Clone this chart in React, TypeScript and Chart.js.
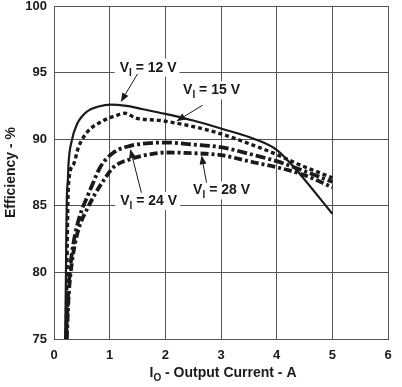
import React, { useEffect, useRef } from "react";
import { Chart, registerables } from "chart.js";

Chart.register(...registerables);

// Axis ranges / ticks
const xMin = 0;
const xMax = 6;
const xStep = 1;
const yMin = 75;
const yMax = 100;
const yStep = 5;

// V_I = 12 V
const v12X = [0.2, 0.21, 0.22, 0.23, 0.25, 0.26, 0.32, 0.41, 0.6, 0.8, 1.02, 1.3, 1.6, 2.0, 2.5, 3.0, 3.61, 4.0, 4.33, 5.0];
const v12Y = [75, 78, 82, 85.4, 87.0, 88.1, 89.9, 91.1, 92.1, 92.45, 92.6, 92.5, 92.25, 91.9, 91.4, 90.8, 90.0, 89.2, 87.8, 84.4];

// V_I = 15 V
const v15X = [0.22, 0.23, 0.24, 0.26, 0.35, 0.44, 0.59, 0.89, 1.1, 1.28, 1.46, 1.91, 2.5, 3.0, 3.61, 4.0, 4.4, 5.0];
const v15Y = [75, 79, 83, 86.6, 88.1, 89.4, 90.5, 91.4, 91.75, 91.95, 91.6, 91.4, 90.95, 90.4, 89.5, 88.85, 88.1, 87.1];

// V_I = 24 V
const v24X = [0.22, 0.25, 0.29, 0.35, 0.42, 0.5, 0.6, 0.7, 0.83, 1.07, 1.37, 1.7, 2.0, 2.5, 3.0, 3.6, 4.0, 4.5, 5.0];
const v24Y = [75, 78, 80.3, 82.2, 83.6, 84.7, 85.7, 86.7, 87.9, 89.0, 89.5, 89.7, 89.75, 89.6, 89.4, 88.8, 88.35, 87.6, 86.8];

// V_I = 28 V
const v28X = [0.23, 0.26, 0.3, 0.37, 0.46, 0.6, 0.74, 0.89, 1.07, 1.37, 1.7, 2.0, 2.5, 3.0, 3.6, 4.0, 4.5, 5.0];
const v28Y = [75, 78, 80, 82, 83.5, 84.8, 85.9, 86.9, 87.9, 88.5, 88.85, 89.0, 88.95, 88.8, 88.25, 87.9, 87.3, 86.4];

// Curve labels (text in data coordinates, arrows tail -> head)
const labelVolts = ["12 V", "15 V", "24 V", "28 V"];
const labelX = [1.69, 2.83, 1.7, 3.01];
const labelY = [95.45, 93.74, 85.43, 86.23];
const arrowTailX = [1.5, 2.67, 1.57, 2.74];
const arrowTailY = [94.9, 92.55, 85.98, 86.73];
const arrowHeadX = [1.2, 2.2, 1.37, 2.65];
const arrowHeadY = [92.8, 91.35, 89.26, 88.8];

const xTitleMain = "I";
const xTitleSub = "O";
const xTitleRest = " - Output Current - A";
const yTitle = "Efficiency - %";

const FONT = "'Liberation Sans', Arial, Helvetica, sans-serif";
const INK = "#1a1a1a";

function zip(xs: number[], ys: number[]) {
  return xs.map((x, i) => ({ x, y: ys[i] }));
}

function drawSubText(ctx: CanvasRenderingContext2D, main: string, sub: string, rest: string, cx: number, base: number, size: number, subSize: number, subDrop: number, bg: boolean) {
  ctx.font = `bold ${size}px ${FONT}`;
  const wM = ctx.measureText(main).width;
  const wR = ctx.measureText(rest).width;
  ctx.font = `bold ${subSize}px ${FONT}`;
  const wS = ctx.measureText(sub).width;
  const total = wM + wS + wR;
  let x = cx - total / 2;
  if (bg) {
    ctx.fillStyle = "#ffffff";
    ctx.fillRect(x - 5, base - size + 1, total + 8, size + 4);
  }
  ctx.fillStyle = INK;
  ctx.textAlign = "left";
  ctx.textBaseline = "alphabetic";
  ctx.font = `bold ${size}px ${FONT}`;
  ctx.fillText(main, x, base);
  x += wM;
  ctx.font = `bold ${subSize}px ${FONT}`;
  ctx.fillText(sub, x, base + subDrop);
  x += wS;
  ctx.font = `bold ${size}px ${FONT}`;
  ctx.fillText(rest, x, base);
}

const annotPlugin = {
  id: "curveLabels",
  afterDatasetsDraw(chart: any) {
    const ctx: CanvasRenderingContext2D = chart.ctx;
    const xs = chart.scales.x;
    const ys = chart.scales.y;
    ctx.save();
    labelVolts.forEach((v, i) => {
      const cx = xs.getPixelForValue(labelX[i]);
      const cy = ys.getPixelForValue(labelY[i]);
      drawSubText(ctx, "V", "I", ` = ${v}`, cx, cy + 5, 14, 10, 4, true);
    });
    labelVolts.forEach((_, i) => {
      const tx = xs.getPixelForValue(arrowTailX[i]);
      const ty = ys.getPixelForValue(arrowTailY[i]);
      const hx = xs.getPixelForValue(arrowHeadX[i]);
      const hy = ys.getPixelForValue(arrowHeadY[i]);
      const ang = Math.atan2(hy - ty, hx - tx);
      const len = 9;
      const half = 3.5;
      const bx = hx - len * Math.cos(ang);
      const by = hy - len * Math.sin(ang);
      ctx.strokeStyle = INK;
      ctx.lineWidth = 1;
      ctx.beginPath();
      ctx.moveTo(tx, ty);
      ctx.lineTo(bx, by);
      ctx.stroke();
      ctx.fillStyle = INK;
      ctx.beginPath();
      ctx.moveTo(hx, hy);
      ctx.lineTo(bx + half * Math.sin(ang), by - half * Math.cos(ang));
      ctx.lineTo(bx - half * Math.sin(ang), by + half * Math.cos(ang));
      ctx.closePath();
      ctx.fill();
    });
    ctx.restore();
  },
};

const titlePlugin = {
  id: "axisTitles",
  afterDraw(chart: any) {
    const ctx: CanvasRenderingContext2D = chart.ctx;
    const area = chart.chartArea;
    ctx.save();
    drawSubText(ctx, xTitleMain, xTitleSub, xTitleRest, (area.left + area.right) / 2 + 2, 377, 14, 10, 4, false);
    ctx.translate(15, (area.top + area.bottom) / 2);
    ctx.rotate(-Math.PI / 2);
    ctx.font = `bold 14px ${FONT}`;
    ctx.fillStyle = INK;
    ctx.textAlign = "center";
    ctx.textBaseline = "alphabetic";
    ctx.fillText(yTitle, 0, 0);
    ctx.restore();
  },
};

export default function App() {
  const ref = useRef<HTMLCanvasElement | null>(null);
  useEffect(() => {
    if (!ref.current) return;
    const common = { pointRadius: 0, fill: false, cubicInterpolationMode: "monotone" as const, borderCapStyle: "butt" as const };
    const chart = new Chart(ref.current, {
      type: "line",
      data: {
        datasets: [
          { ...common, label: "12 V", data: zip(v12X, v12Y), borderColor: INK, borderWidth: 2.2 },
          { ...common, label: "15 V", data: zip(v15X, v15Y), borderColor: INK, borderWidth: 3.4, borderDash: [4, 3] },
          { ...common, label: "24 V", data: zip(v24X, v24Y), borderColor: INK, borderWidth: 3.8, borderDash: [10, 3, 3, 3] },
          { ...common, label: "28 V", data: zip(v28X, v28Y), borderColor: INK, borderWidth: 3.8, borderDash: [8, 3, 3, 3] },
        ],
      },
      options: {
        responsive: false,
        animation: false,
        layout: { padding: { left: 0, right: 14, top: 6, bottom: 0 } },
        plugins: { legend: { display: false }, tooltip: { enabled: false }, title: { display: false } },
        scales: {
          x: {
            type: "linear",
            min: xMin,
            max: xMax,
            ticks: { stepSize: xStep, color: INK, font: { family: FONT, size: 13, weight: "bold" }, padding: 9, maxRotation: 0 },
            grid: { color: "#555", lineWidth: 1, drawTicks: false },
            border: { color: "#555", width: 1 },
            afterFit: (s: any) => { s.height = 48; s.paddingLeft = 0; s.paddingRight = 0; },
          },
          y: {
            type: "linear",
            min: yMin,
            max: yMax,
            ticks: { stepSize: yStep, color: INK, font: { family: FONT, size: 13, weight: "bold" }, padding: 7 },
            grid: { color: "#555", lineWidth: 1, drawTicks: false },
            border: { color: "#555", width: 1 },
            afterFit: (s: any) => { s.width = 54; s.paddingTop = 0; s.paddingBottom = 0; },
          },
        },
      },
      plugins: [annotPlugin, titlePlugin],
    });
    return () => chart.destroy();
  }, []);
  return (
    <div style={{ position: "absolute", left: 0, top: 0, width: 402, height: 387, background: "#fff" }}>
      <canvas ref={ref} width={402} height={387} style={{ display: "block", width: 402, height: 387 }} />
    </div>
  );
}
